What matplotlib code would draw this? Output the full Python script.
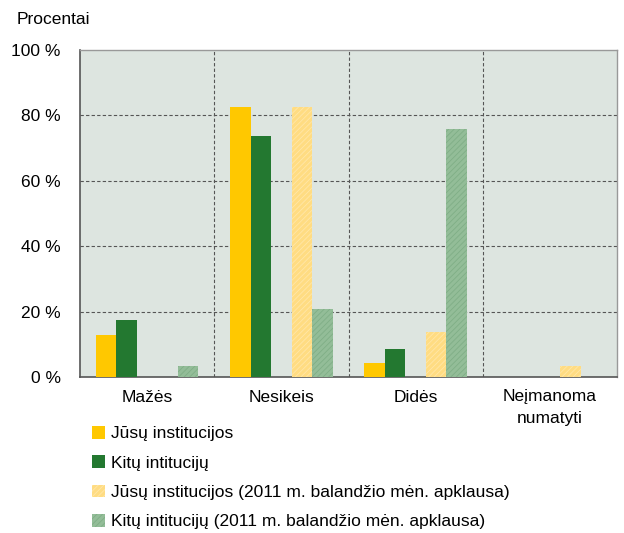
import matplotlib
matplotlib.use("Agg")
import matplotlib.pyplot as plt
import numpy as np
from matplotlib.patches import Patch

plt.rcParams['font.family'] = ['Liberation Sans', 'DejaVu Sans']
plt.rcParams['hatch.linewidth'] = 0.6

categories = ["Mažės", "Nesikeis", "Didės", "Neįmanoma\nnumatyti"]
series_names = ["Jūsų institucijos", "Kitų intitucijų",
                "Jūsų institucijos (2011 m. balandžio mėn. apklausa)",
                "Kitų intitucijų (2011 m. balandžio mėn. apklausa)"]
jusu = [12.9, 82.6, 4.2, 0]
kitu = [17.4, 73.7, 8.6, 0]
jusu_2011 = [0, 82.6, 13.8, 3.3]
kitu_2011 = [3.3, 20.8, 75.7, 0]
yticks = [0, 20, 40, 60, 80, 100]

colors = ["#FFC800", "#237830", "#FFDC82", "#93BD98"]
hatch_colors = [None, None, "#FFE7A8", "#7FAE86"]
values = [jusu, kitu, jusu_2011, kitu_2011]
offsets = [-2, -1, 1, 2]

fig = plt.figure(figsize=(6.24, 5.33), dpi=100)
ax = fig.add_axes([80/624, 1-377/533, 537/624, 327/533])
ax.set_facecolor("#DDE5E0")

x = np.arange(len(categories))
w = 0.153
for vals, c, hc, off in zip(values, colors, hatch_colors, offsets):
    if hc is None:
        ax.bar(x + off*w, vals, width=w, color=c, linewidth=0, zorder=3)
    else:
        ax.bar(x + off*w, vals, width=w, color=c, edgecolor=hc, hatch="//////",
               linewidth=0, zorder=3)

ax.set_xlim(-0.5, len(categories)-0.5)
ax.set_ylim(0, 100)
ax.set_yticks(yticks)
ax.set_yticklabels([f"{t} %" for t in yticks], fontsize=12.5)
ax.set_xticks(x)
ax.set_xticklabels(categories, fontsize=12.5, linespacing=1.5)
ax.tick_params(axis='both', length=0)
ax.tick_params(axis='y', pad=14)
ax.tick_params(axis='x', pad=9)

for yv in [20, 40, 60, 80]:
    ax.axhline(yv, color="#555555", linestyle=(0, (3, 2)), linewidth=0.8, zorder=2)
for xv in [0.5, 1.5, 2.5]:
    ax.axvline(xv, color="#555555", linestyle=(0, (3, 2)), linewidth=0.8, zorder=2)

for s in ['left', 'bottom']:
    ax.spines[s].set_color("#555555")
    ax.spines[s].set_linewidth(1.2)
for s in ['top', 'right']:
    ax.spines[s].set_color("#999999")
    ax.spines[s].set_linewidth(1.0)

fig.text(17/624, 1-20/533, "Procentai", fontsize=12.5, va='center', ha='left')

handles = []
for c, hc in zip(colors, hatch_colors):
    if hc is None:
        handles.append(Patch(facecolor=c, linewidth=0))
    else:
        handles.append(Patch(facecolor=c, edgecolor=hc, hatch="//////", linewidth=0))
leg = fig.legend(handles, series_names, loc='upper left',
                 bbox_to_anchor=(85/624, 1-419/533), frameon=False,
                 fontsize=12.5, handlelength=0.75, handleheight=0.75,
                 handletextpad=0.35, labelspacing=0.8, borderaxespad=0)

fig.savefig("out.png", dpi=100)
